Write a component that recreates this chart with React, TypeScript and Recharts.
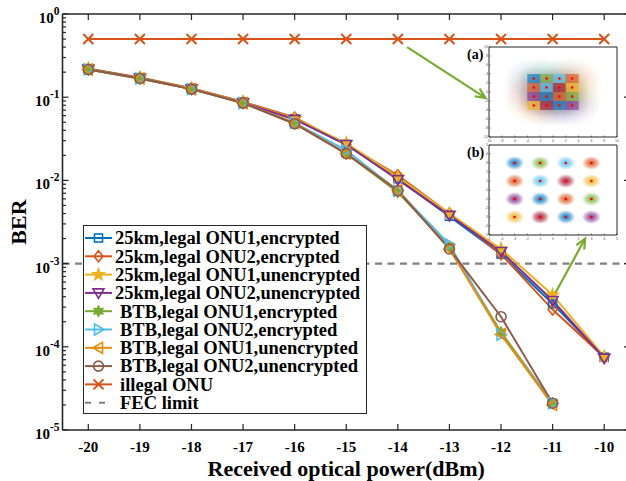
import React from 'react'
import { LineChart, Line, XAxis, YAxis, ReferenceLine, ReferenceArea, Legend, ScatterChart, Scatter } from 'recharts'

const powers = [-20, -19, -18, -17, -16, -15, -14, -13, -12, -11, -10]
const km25Onu1Enc = [0.22, 0.17, 0.127, 0.087, 0.055, 0.027, 0.0105, 0.0037, 0.0013, 0.00033, 0.000075]
const km25Onu2Enc = [0.22, 0.172, 0.128, 0.088, 0.057, 0.027, 0.0115, 0.004, 0.0013, 0.00028, 0.000075]
const km25Onu1Unenc = [0.221, 0.171, 0.127, 0.087, 0.055, 0.028, 0.011, 0.004, 0.0015, 0.00042, 0.000076]
const km25Onu2Unenc = [0.218, 0.17, 0.126, 0.086, 0.054, 0.027, 0.0102, 0.0038, 0.0014, 0.00036, 0.000073]
const btbOnu1Enc = [0.215, 0.168, 0.125, 0.085, 0.048, 0.021, 0.0072, 0.0016, 0.00015, 0.000021]
const btbOnu2Enc = [0.216, 0.168, 0.125, 0.085, 0.049, 0.023, 0.0075, 0.0017, 0.00014, 0.000021]
const btbOnu1Unenc = [0.215, 0.168, 0.125, 0.085, 0.049, 0.021, 0.0076, 0.0015, 0.000142, 0.00002]
const btbOnu2Unenc = [0.215, 0.168, 0.125, 0.085, 0.048, 0.021, 0.0075, 0.0015, 0.00023, 0.000021]
const illegalOnu = [0.5, 0.5, 0.5, 0.5, 0.5, 0.5, 0.5, 0.5, 0.5, 0.5, 0.5]
const fecLimit = 0.001

const xTicks = [-20, -19, -18, -17, -16, -15, -14, -13, -12, -11, -10]
const yDecades = [-5, -4, -3, -2, -1, 0]
const yMinorSteps = [1, 2, 3, 4, 5, 6, 7, 8, 9]

// annotation arrows, in data units
const arrowA = [{ x: -13.82, y: 0.4 }, { x: -12.3, y: 0.098 }]
const arrowB = [{ x: -10.95, y: 0.00044 }, { x: -10.37, y: 0.002 }]

// 16QAM constellation for the insets
const qamI = [-3, -1, 1, 3, -3, -1, 1, 3, -3, -1, 1, 3, -3, -1, 1, 3]
const qamQ = [3, 3, 3, 3, 1, 1, 1, 1, -1, -1, -1, -1, -3, -3, -3, -3]
const qamColor = ['blue', 'green', 'cyan', 'orange', 'orange', 'cyan', 'wine', 'yellow', 'purple', 'blue', 'orange', 'green', 'yellow', 'wine', 'blue', 'purple']
const insetTicksA = [-10, -8, -6, -4, -2, 0, 2, 4, 6, 8, 10]
const insetTicksB = [-5, -4, -3, -2, -1, 0, 1, 2, 3, 4, 5]

const FONT = '"Liberation Serif", "Times New Roman", serif'
const AXIS = '#262626'
const palette: Record<string, string> = {
  blue: '#0072BD',
  orange: '#D95319',
  yellow: '#EDB120',
  purple: '#7E2F8E',
  green: '#77AC30',
  cyan: '#4DBEEE',
  wine: '#A2142F',
}

const series = [
  { key: 's0', name: '25km,legal ONU1,encrypted', values: km25Onu1Enc, color: '#0072BD', marker: 'square', indent: 32 },
  { key: 's1', name: '25km,legal ONU2,encrypted', values: km25Onu2Enc, color: '#D95319', marker: 'diamond', indent: 32 },
  { key: 's2', name: '25km,legal ONU1,unencrypted', values: km25Onu1Unenc, color: '#EDB120', marker: 'pentagram', indent: 32 },
  { key: 's3', name: '25km,legal ONU2,unencrypted', values: km25Onu2Unenc, color: '#7E2F8E', marker: 'triDown', indent: 32 },
  { key: 's4', name: 'BTB,legal ONU1,encrypted', values: btbOnu1Enc, color: '#77AC30', marker: 'hexagram', indent: 37 },
  { key: 's5', name: 'BTB,legal ONU2,encrypted', values: btbOnu2Enc, color: '#4DBEEE', marker: 'triRight', indent: 37 },
  { key: 's6', name: 'BTB,legal ONU1,unencrypted', values: btbOnu1Unenc, color: '#EA8A0C', marker: 'triLeft', indent: 37 },
  { key: 's7', name: 'BTB,legal ONU2,unencrypted', values: btbOnu2Unenc, color: '#8C5A4C', marker: 'circle', indent: 37 },
  { key: 's8', name: 'illegal ONU', values: illegalOnu, color: '#D95319', marker: 'cross', indent: 37 },
]

const rows = powers.map((x, i) => {
  const r: Record<string, number | undefined> = { x }
  series.forEach((s) => (r[s.key] = s.values[i]))
  return r
})

const yTicks = yDecades.flatMap((d) => (d === 0 ? [1] : yMinorSteps.map((m) => m * Math.pow(10, d))))

function starPoints(x: number, y: number, n: number, ro: number, ri: number, rot = -Math.PI / 2) {
  const pts: string[] = []
  for (let k = 0; k < n * 2; k++) {
    const r = k % 2 === 0 ? ro : ri
    const a = rot + (k * Math.PI) / n
    pts.push(`${x + r * Math.cos(a)},${y + r * Math.sin(a)}`)
  }
  return pts.join(' ')
}

function Marker({ shape, x, y, color }: { shape: string; x: number; y: number; color: string }) {
  const st = { fill: 'none', stroke: color, strokeWidth: 1.6 }
  switch (shape) {
    case 'square':
      return <rect x={x - 4} y={y - 4} width={8} height={8} {...st} />
    case 'diamond':
      return <polygon points={`${x},${y - 5.5} ${x + 4.5},${y} ${x},${y + 5.5} ${x - 4.5},${y}`} {...st} />
    case 'pentagram':
      return <polygon points={starPoints(x, y, 5, 5.8, 2.4)} {...st} fill={color} />
    case 'triDown':
      return <polygon points={`${x - 5.5},${y - 4} ${x + 5.5},${y - 4} ${x},${y + 5.5}`} {...st} />
    case 'hexagram':
      return <polygon points={starPoints(x, y, 6, 5, 2.8)} {...st} fill={color} />
    case 'triRight':
      return <polygon points={`${x - 4},${y - 5.5} ${x - 4},${y + 5.5} ${x + 5.5},${y}`} {...st} />
    case 'triLeft':
      return <polygon points={`${x + 4},${y - 5.5} ${x + 4},${y + 5.5} ${x - 5.5},${y}`} {...st} />
    case 'circle':
      return <circle cx={x} cy={y} r={5} {...st} />
    default:
      return <path d={`M${x - 5},${y - 5}L${x + 5},${y + 5}M${x - 5},${y + 5}L${x + 5},${y - 5}`} {...st} strokeWidth={2} />
  }
}

const dotFor = (shape: string, color: string, key: string) => (p: any) => {
  if (p.cy == null || p.value == null || isNaN(p.cy)) return <g key={`${key}-${p.index}`} />
  return (
    <g key={`${key}-${p.index}`}>
      <Marker shape={shape} x={p.cx} y={p.cy} color={color} />
    </g>
  )
}

function isMajor(v: number) {
  const lg = Math.log10(v)
  return Math.abs(lg - Math.round(lg)) < 1e-6
}

const LeftTick = (p: any) => {
  const v = p.payload.value
  const major = isMajor(v)
  return (
    <g>
      <line x1={p.x} x2={p.x + (major ? 6 : 3.5)} y1={p.y} y2={p.y} stroke={AXIS} strokeWidth={1.2} />
      {major && (
        <text x={p.x - 3} y={p.y + 9} textAnchor="end" fontFamily={FONT} fontWeight="bold" fontSize={15} fill="#000">
          <tspan>10</tspan>
          <tspan dy={-8} fontSize={11.5}>{Math.round(Math.log10(v))}</tspan>
        </text>
      )}
    </g>
  )
}

const RightTick = (p: any) => {
  const major = isMajor(p.payload.value)
  return <line x1={p.x} x2={p.x - (major ? 6 : 3.5)} y1={p.y} y2={p.y} stroke={AXIS} strokeWidth={1.2} />
}

const BottomTick = (p: any) => (
  <g>
    <line x1={p.x} x2={p.x} y1={p.y} y2={p.y - 6} stroke={AXIS} strokeWidth={1.2} />
    <text x={p.x} y={p.y + 22} textAnchor="middle" fontFamily={FONT} fontWeight="bold" fontSize={15} fill="#000">
      {p.payload.value}
    </text>
  </g>
)

const TopTick = (p: any) => <line x1={p.x} x2={p.x} y1={p.y} y2={p.y + 6} stroke={AXIS} strokeWidth={1.2} />

const Arrow = (p: any) => {
  const { x1, y1, x2, y2 } = p
  const a = Math.atan2(y2 - y1, x2 - x1)
  const L = 11
  const w = 0.42
  const h1 = `${x2 - L * Math.cos(a - w)},${y2 - L * Math.sin(a - w)}`
  const h2 = `${x2 - L * Math.cos(a + w)},${y2 - L * Math.sin(a + w)}`
  return (
    <g stroke="#77AC30" strokeWidth={2.2} fill="none">
      <line x1={x1} y1={y1} x2={x2} y2={y2} />
      <polyline points={`${h1} ${x2},${y2} ${h2}`} />
    </g>
  )
}

function LegendBox() {
  const rowH = 18.3
  return (
    <svg width={284} height={189} style={{ display: 'block' }}>
      <rect x={0.5} y={0.5} width={283} height={188} fill="#fff" stroke={AXIS} strokeWidth={1} />
      {series.map((s, i) => {
        const cy = 13 + i * rowH
        return (
          <g key={s.key}>
            <line x1={2} x2={29} y1={cy} y2={cy} stroke={s.color} strokeWidth={2} />
            <Marker shape={s.marker} x={15.5} y={cy} color={s.color} />
            <text x={s.indent} y={cy + 6.3} fontFamily={FONT} fontWeight="bold" fontSize={18.5} fill="#000">
              {s.name}
            </text>
          </g>
        )
      })}
      <line x1={2} x2={29} y1={13 + 9 * rowH} y2={13 + 9 * rowH} stroke="#808080" strokeWidth={2} strokeDasharray="6 8" />
      <text x={37} y={13 + 9 * rowH + 6.3} fontFamily={FONT} fontWeight="bold" fontSize={18.5} fill="#000">
        FEC limit
      </text>
    </svg>
  )
}

const InsetXTick = (p: any) => (
  <g>
    <line x1={p.x} x2={p.x} y1={p.y} y2={p.y - 1.5} stroke={AXIS} strokeWidth={0.6} />
    <text x={p.x} y={p.y + 5} textAnchor="middle" fontSize={3.5} fill="#555" fontFamily="Arial">
      {p.payload.value}
    </text>
  </g>
)

const InsetYTick = (p: any) => (
  <g>
    <line x1={p.x} x2={p.x + 1.5} y1={p.y} y2={p.y} stroke={AXIS} strokeWidth={0.6} />
    <text x={p.x - 1} y={p.y + 1.2} textAnchor="end" fontSize={3.5} fill="#555" fontFamily="Arial">
      {p.payload.value}
    </text>
  </g>
)

function Inset({ id, label, left, top, lim, ticks, spread }: { id: string; label: string; left: number; top: number; lim: number; ticks: number[]; spread: boolean }) {
  const pts = qamI.map((i, k) => ({ i, q: qamQ[k], c: qamColor[k] }))
  const W = 128
  const H = 90
  const padL = 10
  const padR = 4
  const padT = 3
  const padB = 8
  const cloud = (p: any) => (
    <ellipse cx={p.cx} cy={p.cy} rx={spread ? 30 : 9.5} ry={spread ? 21 : 7} fill={`url(#${id}-${p.payload.c})`} />
  )
  const cell = (p: any) => (
    <rect x={p.cx - 6.5} y={p.cy - 4.5} width={13} height={9} fill={palette[p.payload.c]} fillOpacity={0.6} />
  )
  const centre = (p: any) => <circle cx={p.cx} cy={p.cy} r={1.3} fill="#FF0000" />
  return (
    <>
      <div style={{ position: 'absolute', left: left - padL, top: top - padT }}>
        <ScatterChart width={W + padL + padR} height={H + padT + padB} margin={{ top: padT, right: padR, left: 0, bottom: 0 }}>
          <defs>
            {Object.keys(palette).map((k) => (
              <radialGradient id={`${id}-${k}`} key={k}>
                <stop offset="0%" stopColor={palette[k]} stopOpacity={spread ? 0.3 : 0.95} />
                <stop offset="55%" stopColor={palette[k]} stopOpacity={spread ? 0.1 : 0.5} />
                <stop offset="100%" stopColor={palette[k]} stopOpacity={0} />
              </radialGradient>
            ))}
          </defs>
          <XAxis type="number" dataKey="i" domain={[-lim, lim]} ticks={ticks} interval={0} height={padB} tickSize={0} tickMargin={0} tickLine={false} tick={<InsetXTick />} axisLine={false} allowDataOverflow />
          <YAxis type="number" dataKey="q" domain={[-lim, lim]} ticks={ticks} interval={0} width={padL} tickSize={0} tickMargin={0} tickLine={false} tick={<InsetYTick />} axisLine={false} allowDataOverflow />
          <ReferenceArea x1={-lim} x2={lim} y1={-lim} y2={lim} fill="#fff" fillOpacity={1} stroke={AXIS} strokeWidth={1} />
          <Scatter data={pts} shape={cloud} isAnimationActive={false} />
          {spread && <Scatter data={pts} shape={cell} isAnimationActive={false} />}
          <Scatter data={pts} shape={centre} isAnimationActive={false} />
        </ScatterChart>
      </div>
      <div style={{ position: 'absolute', left: left - 22, top: top + 1, fontFamily: FONT, fontWeight: 'bold', fontSize: 14, lineHeight: '14px' }}>
        {label}
      </div>
    </>
  )
}

export default function App() {
  return (
    <div style={{ position: 'absolute', left: 0, top: 0, width: 626, height: 481, overflow: 'hidden', background: '#fff' }}>
      <LineChart width={640} height={481} data={rows} margin={{ top: 0, right: 0, bottom: 0, left: 0 }}>
        <XAxis
          xAxisId="b"
          dataKey="x"
          type="number"
          domain={[-20.5, -9.5]}
          ticks={xTicks}
          interval={0}
          allowDataOverflow
          height={51}
          tickSize={0}
          tickMargin={0}
          tickLine={false}
          tick={<BottomTick />}
          axisLine={{ stroke: AXIS, strokeWidth: 1.6 }}
          label={{ value: 'Received optical power(dBm)', position: 'insideBottom', offset: 5, fontFamily: FONT, fontWeight: 'bold', fontSize: 22, fill: '#000' }}
        />
        <XAxis
          xAxisId="t"
          orientation="top"
          dataKey="x"
          type="number"
          domain={[-20.5, -9.5]}
          ticks={xTicks}
          interval={0}
          allowDataOverflow
          height={14}
          tickSize={0}
          tickMargin={0}
          tickLine={false}
          tick={<TopTick />}
          axisLine={{ stroke: AXIS, strokeWidth: 1.6 }}
        />
        <YAxis
          yAxisId="l"
          scale="log"
          domain={[0.00001, 1]}
          ticks={yTicks}
          interval={0}
          allowDataOverflow
          width={62.5}
          tickSize={0}
          tickMargin={0}
          tickLine={false}
          tick={<LeftTick />}
          axisLine={{ stroke: AXIS, strokeWidth: 1.6 }}
          label={{ value: 'BER', angle: -90, position: 'insideLeft', offset: 18, fontFamily: FONT, fontWeight: 'bold', fontSize: 22, fill: '#000', style: { textAnchor: 'middle' } }}
        />
        <YAxis
          yAxisId="r"
          orientation="right"
          scale="log"
          domain={[0.00001, 1]}
          ticks={yTicks}
          interval={0}
          allowDataOverflow
          width={10}
          tickSize={0}
          tickMargin={0}
          tickLine={false}
          tick={<RightTick />}
          axisLine={{ stroke: AXIS, strokeWidth: 1.6 }}
        />
        <ReferenceLine xAxisId="b" yAxisId="l" y={fecLimit} stroke="#808080" strokeWidth={2.4} strokeDasharray="7 5.5" />
        {series.map((s) => (
          <Line
            key={s.key}
            xAxisId="b"
            yAxisId="l"
            dataKey={s.key}
            name={s.name}
            stroke={s.color}
            strokeWidth={2}
            dot={dotFor(s.marker, s.color, s.key)}
            activeDot={false}
            isAnimationActive={false}
          />
        ))}
        <ReferenceLine xAxisId="b" yAxisId="l" segment={arrowA} shape={<Arrow />} ifOverflow="visible" />
        <ReferenceLine xAxisId="b" yAxisId="l" segment={arrowB} shape={<Arrow />} ifOverflow="visible" />
        <Legend layout="vertical" align="center" verticalAlign="middle" wrapperStyle={{ left: 83, top: 225, width: 284, height: 189 }} content={() => <LegendBox />} />
      </LineChart>
      <Inset id="ia" label="(a)" left={489} top={47} lim={10} ticks={insetTicksA} spread />
      <Inset id="ib" label="(b)" left={489} top={145} lim={5} ticks={insetTicksB} spread={false} />
    </div>
  )
}
